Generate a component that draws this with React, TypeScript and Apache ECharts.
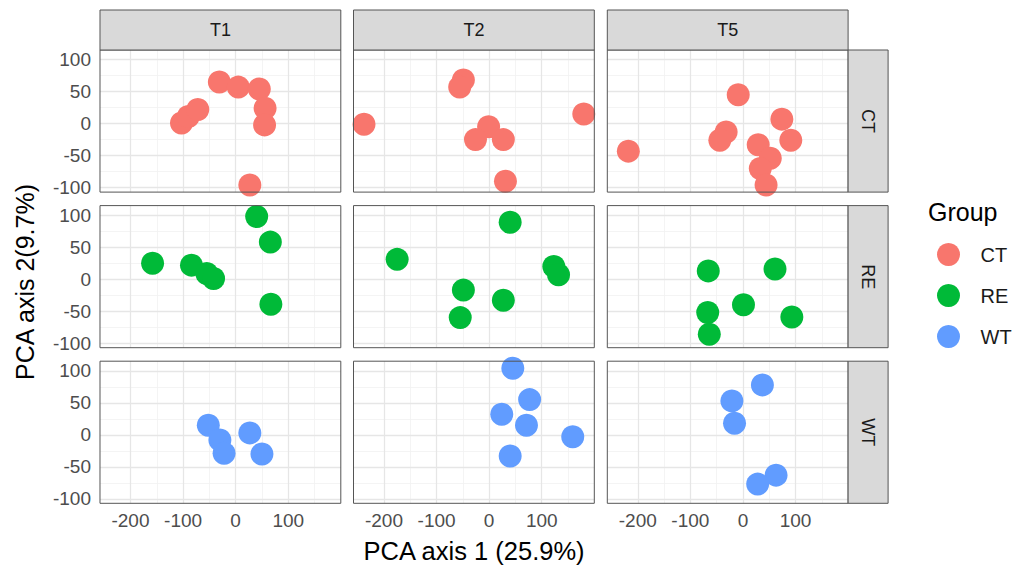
import React, { useEffect, useRef } from 'react';
import * as echarts from 'echarts';

const times = ['T1', 'T2', 'T5'];
const groups = ['CT', 'RE', 'WT'];
const groupColors = ['#F8766D', '#00BA38', '#619CFF'];

const ctT1 = [[-103, 1], [-90, 11], [-72, 22], [-31, 65], [5, 57], [45, 54], [56, 24], [55, -2], [27, -96]];
const ctT2 = [[-238, -1], [-49, 68], [-56, 57], [180, 15], [-1, -5], [-26, -25], [27, -25], [31, -90]];
const ctT5 = [[-218, -43], [-9, 45], [-32, -13], [-44, -26], [74, 7], [91, -26], [29, -33], [52, -54], [33, -70], [44, -96]];
const reT1 = [[-158, 25], [-84, 22], [-55, 9], [-42, 1], [40, 98], [66, 58], [67, -39]];
const reT2 = [[-175, 31], [40, 89], [-49, -17], [-55, -60], [27, -33], [123, 20], [132, 7]];
const reT5 = [[-66, 13], [61, 16], [1, -40], [-67, -52], [-64, -86], [93, -59]];
const wtT1 = [[-52, 15], [-30, -8], [-22, -29], [27, 3], [50, -30]];
const wtT2 = [[45, 104], [77, 55], [24, 32], [71, 15], [159, -3], [40, -33]];
const wtT5 = [[37, 78], [-21, 53], [-16, 18], [63, -63], [28, -77]];

const panelData = [
  [ctT1, ctT2, ctT5],
  [reT1, reT2, reT5],
  [wtT1, wtT2, wtT5],
];

const xTicks = [-200, -100, 0, 100];
const yTicks = [-100, -50, 0, 50, 100];
const xMinor = [-150, -50, 50, 150];
const yMinor = [-75, -25, 25, 75];
const xRange = [-258, 200];
const yRange = [-107, 115];

const xTitle = 'PCA axis 1 (25.9%)';
const yTitle = 'PCA axis 2(9.7%)';
const legendTitle = 'Group';

const FONT = "'Liberation Sans', Arial, sans-serif";
const colLeft = [100, 353.5, 607.3];
const rowTop = [50, 205.6, 361.2];
const panelW = 240.8;
const panelH = 142.1;
const stripSize = 40;

export default function App() {
  const ref = useRef<HTMLDivElement>(null);

  useEffect(() => {
    if (!ref.current) return;
    const chart = echarts.init(ref.current, undefined, { renderer: 'svg' });

    const grids: any[] = [];
    const xAxes: any[] = [];
    const yAxes: any[] = [];
    const series: any[] = [];
    const graphics: any[] = [];

    const major = { color: '#E6E6E6', width: 1.3, type: 'solid' };
    const minor = { color: '#F1F1F1', width: 0.8, type: 'solid' };

    for (let r = 0; r < 3; r++) {
      for (let c = 0; c < 3; c++) {
        const i = r * 3 + c;
        grids.push({
          left: colLeft[c],
          top: rowTop[r],
          width: panelW,
          height: panelH,
          show: true,
          backgroundColor: '#FFFFFF',
          borderWidth: 0,
        });
        const isBottom = r === 2;
        const isLeft = c === 0;
        xAxes.push({
          type: 'value',
          gridIndex: i,
          min: xRange[0],
          max: xRange[1],
          axisLine: { show: false },
          splitLine: { show: false },
          axisTick: {
            show: isBottom,
            customValues: xTicks,
            length: 4,
            lineStyle: { color: '#333333', width: 1 },
          },
          axisLabel: {
            show: isBottom,
            customValues: xTicks,
            color: '#4D4D4D',
            fontSize: 19,
            fontFamily: FONT,
            margin: 8,
          },
        });
        yAxes.push({
          type: 'value',
          gridIndex: i,
          min: yRange[0],
          max: yRange[1],
          axisLine: { show: false },
          splitLine: { show: false },
          axisTick: {
            show: isLeft,
            customValues: yTicks,
            length: 4,
            lineStyle: { color: '#333333', width: 1 },
          },
          axisLabel: {
            show: isLeft,
            customValues: yTicks,
            color: '#4D4D4D',
            fontSize: 19,
            fontFamily: FONT,
            margin: 9,
          },
        });
        const lines: any[] = [];
        xMinor.forEach((v) => lines.push({ xAxis: v, lineStyle: minor }));
        yMinor.forEach((v) => lines.push({ yAxis: v, lineStyle: minor }));
        xTicks.forEach((v) => lines.push({ xAxis: v, lineStyle: major }));
        yTicks.forEach((v) => lines.push({ yAxis: v, lineStyle: major }));
        series.push({
          type: 'scatter',
          name: groups[r],
          xAxisIndex: i,
          yAxisIndex: i,
          data: panelData[r][c],
          symbol: 'circle',
          symbolSize: 23,
          clip: true,
          z: 3,
          itemStyle: { color: groupColors[r], opacity: 1 },
          emphasis: { disabled: true },
          markLine: {
            silent: true,
            z: 1,
            symbol: ['none', 'none'],
            label: { show: false },
            emphasis: { disabled: true },
            data: lines,
          },
        });
        graphics.push({
          type: 'rect',
          z: 100,
          silent: true,
          shape: { x: colLeft[c], y: rowTop[r], width: panelW, height: panelH },
          style: { fill: 'none', stroke: '#555555', lineWidth: 1 },
        });
      }
    }

    for (let c = 0; c < 3; c++) {
      graphics.push({
        type: 'rect',
        z: 100,
        silent: true,
        shape: { x: colLeft[c], y: rowTop[0] - stripSize, width: panelW, height: stripSize },
        style: { fill: '#D9D9D9', stroke: '#555555', lineWidth: 1 },
      });
      graphics.push({
        type: 'text',
        z: 101,
        silent: true,
        x: colLeft[c] + panelW / 2,
        y: rowTop[0] - stripSize / 2,
        style: {
          text: times[c],
          fill: '#1A1A1A',
          font: `18px ${FONT}`,
          align: 'center',
          verticalAlign: 'middle',
        },
      });
    }
    const stripX = colLeft[2] + panelW;
    for (let r = 0; r < 3; r++) {
      graphics.push({
        type: 'rect',
        z: 100,
        silent: true,
        shape: { x: stripX, y: rowTop[r], width: stripSize, height: panelH },
        style: { fill: '#D9D9D9', stroke: '#555555', lineWidth: 1 },
      });
      graphics.push({
        type: 'text',
        z: 101,
        silent: true,
        x: stripX + stripSize / 2,
        y: rowTop[r] + panelH / 2,
        rotation: -Math.PI / 2,
        style: {
          text: groups[r],
          fill: '#1A1A1A',
          font: `18px ${FONT}`,
          align: 'center',
          verticalAlign: 'middle',
        },
      });
    }
    graphics.push({
      type: 'text',
      silent: true,
      x: (colLeft[0] + colLeft[2] + panelW) / 2,
      y: 551,
      style: {
        text: xTitle,
        fill: '#000000',
        font: `25.5px ${FONT}`,
        align: 'center',
        verticalAlign: 'middle',
      },
    });
    graphics.push({
      type: 'text',
      silent: true,
      x: 25,
      y: 282,
      rotation: Math.PI / 2,
      style: {
        text: yTitle,
        fill: '#000000',
        font: `25px ${FONT}`,
        align: 'center',
        verticalAlign: 'middle',
      },
    });
    graphics.push({
      type: 'text',
      silent: true,
      x: 928,
      y: 212,
      style: {
        text: legendTitle,
        fill: '#000000',
        font: `25px ${FONT}`,
        align: 'left',
        verticalAlign: 'middle',
      },
    });

    chart.setOption({
      animation: false,
      backgroundColor: '#FFFFFF',
      grid: grids,
      xAxis: xAxes,
      yAxis: yAxes,
      series,
      graphic: graphics,
      legend: {
        data: groups,
        orient: 'vertical',
        left: 932,
        top: 238,
        icon: 'circle',
        itemWidth: 54,
        itemHeight: 23,
        itemGap: 18,
        selectedMode: false,
        textStyle: { fontSize: 20, color: '#1A1A1A', fontFamily: FONT },
      },
    });

    return () => chart.dispose();
  }, []);

  return (
    <div
      ref={ref}
      style={{ position: 'fixed', left: 0, top: 0, width: 1022, height: 572 }}
    />
  );
}
